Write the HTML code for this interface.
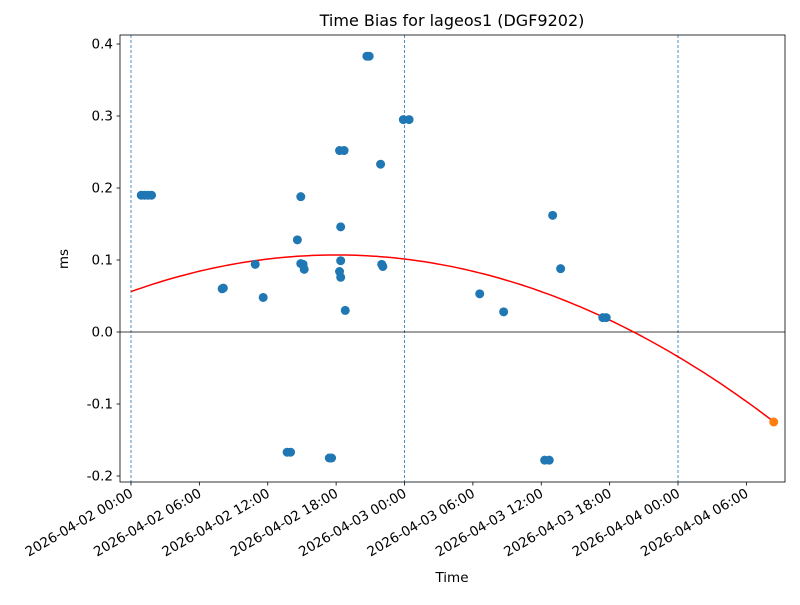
<!DOCTYPE html>
<html><head><meta charset="utf-8"><style>
body{margin:0;background:#fff;font-family:"Liberation Sans","DejaVu Sans",sans-serif}
svg text{font-family:"DejaVu Sans","Liberation Sans",sans-serif}
</style></head><body>
<svg id="chart" width="800" height="600" xmlns="http://www.w3.org/2000/svg"></svg>
<script>
const hours=[0.9,1.2,1.5,1.8,8.0,8.1,10.9,11.6,13.7,14.0,14.6,14.9,14.9,15.1,15.2,17.4,17.6,18.4,18.3,18.7,18.4,18.3,18.4,18.8,20.7,20.9,21.9,22.0,22.1,23.9,24.4,30.6,32.7,36.3,36.7,37.0,37.7,41.4,41.7];
const values=[0.19,0.19,0.19,0.19,0.06,0.061,0.094,0.048,-0.167,-0.167,0.128,0.188,0.095,0.094,0.087,-0.175,-0.175,0.146,0.252,0.252,0.099,0.084,0.076,0.030,0.383,0.383,0.233,0.094,0.091,0.295,0.295,0.053,0.028,-0.178,-0.178,0.162,0.088,0.020,0.020];
const predHour=[56.4];
const predValue=[-0.125];
const fitCoeffs=[-0.000157,18,0.107]; // a*(h-h0)^2+c
const xTickHours=[0,6,12,18,24,30,36,42,48,54];
const xTickLabels=["2026-04-02 00:00","2026-04-02 06:00","2026-04-02 12:00","2026-04-02 18:00","2026-04-03 00:00","2026-04-03 06:00","2026-04-03 12:00","2026-04-03 18:00","2026-04-04 00:00","2026-04-04 06:00"];
const yTicks=[-0.2,-0.1,0.0,0.1,0.2,0.3,0.4];
const dayLines=[0,24,48];

const L=120,R=785,T=35,B=482;
const X=h=>131+h*11.396;
const Y=v=>332-v*720;
const svg=document.getElementById('chart');
const NS='http://www.w3.org/2000/svg';
function mk(tag,attrs){const e=document.createElementNS(NS,tag);for(const k in attrs)e.setAttribute(k,attrs[k]);svg.appendChild(e);return e;}

let t=mk('text',{x:452,y:26,'text-anchor':'middle','font-size':16,fill:'#000'});t.textContent='Time Bias for lageos1 (DGF9202)';



dayLines.forEach(h=>{const l=mk('line',{x1:X(h),x2:X(h),y1:T,y2:B,stroke:'#1f77b4','stroke-width':0.8,'stroke-dasharray':'3,2'});

});
let z=mk('line',{x1:L,x2:R,y1:Y(0),y2:Y(0),stroke:'#000','stroke-width':0.8});



let d='';for(let i=0;i<=120;i++){const h=predHour[0]*i/120;const v=fitCoeffs[0]*(h-fitCoeffs[1])**2+fitCoeffs[2];d+=(i?'L':'M')+X(h).toFixed(1)+','+Y(v).toFixed(1);}
let c=mk('path',{d:d,fill:'none',stroke:'#ff0000','stroke-width':1.5});



hours.forEach((h,i)=>{const p=mk('circle',{cx:X(h),cy:Y(values[i]),r:4.5,fill:'#1f77b4'});

});
predHour.forEach((h,i)=>{const p=mk('circle',{cx:X(h),cy:Y(predValue[i]),r:4.5,fill:'#ff7f0e'});

});

let f=mk('rect',{x:L,y:T,width:R-L,height:B-T,fill:'none',stroke:'#000','stroke-width':0.8});



yTicks.forEach(v=>{const y=Y(v);mk('line',{x1:L-3.5,x2:L,y1:y,y2:y,stroke:'#000','stroke-width':0.8});
const tx=mk('text',{x:L-7,y:y+4.5,'text-anchor':'end','font-size':13.5,fill:'#000'});tx.textContent=v.toFixed(1);

});
xTickHours.forEach((h,i)=>{const x=X(h);mk('line',{x1:x,x2:x,y1:B,y2:B+3.5,stroke:'#000','stroke-width':0.8});
const tx=mk('text',{x:x+3,y:B+14,'text-anchor':'end','font-size':13.5,fill:'#000',transform:`rotate(-30 ${x+3} ${B+14})`});tx.textContent=xTickLabels[i];

});

let xl=mk('text',{x:452,y:582,'text-anchor':'middle','font-size':13.5,fill:'#000'});xl.textContent='Time';


let yl=mk('text',{x:68,y:259,'text-anchor':'middle','font-size':13.5,fill:'#000',transform:'rotate(-90 68 259)'});yl.textContent='ms';


</script>
</body></html>
